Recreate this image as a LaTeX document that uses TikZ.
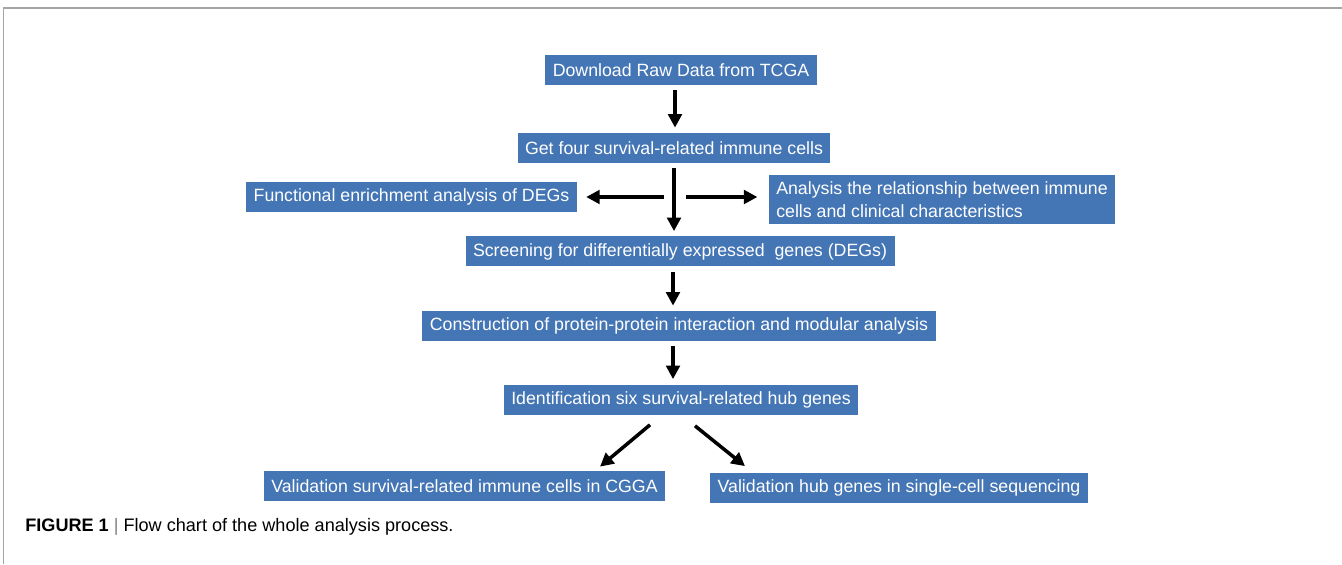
\documentclass[tikz,border=0pt]{standalone}
\usepackage{fontspec}
\setmainfont{Liberation Sans}
\usepackage{tikz}
\usetikzlibrary{arrows.meta,positioning,calc}
\usepackage{xcolor}
\definecolor{boxblue}{RGB}{68,117,181}
\definecolor{framegray}{RGB}{165,165,165}

\begin{document}
\begin{tikzpicture}[
    step box/.style={fill=boxblue, text=white, minimum height=0.6cm, inner xsep=0.15cm, inner ysep=0.05cm, align=left, font=\fontsize{10.1}{13}\selectfont},
    arr/.style={-{Triangle[width=0.27cm,length=0.27cm]}, line width=0.07cm, shorten <=0.1cm, shorten >=0.1cm}
]
    \useasboundingbox (0,0) rectangle (26.84,11.28);
    \draw[framegray, line width=0.6pt] (0.07,0) -- (0.07,11.12) -- (26.84,11.12);

    \node[step box] (dl) at (13.62,9.88) {Download Raw Data from TCGA};
    \node[step box] (get) at (13.48,8.32) {Get four survival-related immune cells};
    \node[step box] (func) at (8.23,7.34) {Functional enrichment analysis of DEGs};
    \node[step box, minimum height=0.98cm] (rel) at (18.84,7.29) {Analysis the relationship between immune\\cells and clinical characteristics};
    \node[step box] (deg) at (13.6,6.25) {Screening for differentially expressed\ \ genes (DEGs)};
    \node[step box] (ppi) at (13.58,4.76) {Construction of protein-protein interaction and modular analysis};
    \node[step box] (hub) at (13.62,3.29) {Identification six survival-related hub genes};
    \node[step box] (cgga) at (9.29,1.56) {Validation survival-related immune cells in CGGA};
    \node[step box] (sc) at (17.98,1.53) {Validation hub genes in single-cell sequencing};

    \node[anchor=west, inner sep=0pt, font=\fontsize{10.3}{12}\selectfont] (cap) at (0.5,0.74) {\textbf{FIGURE 1} \textcolor{gray}{|} Flow chart of the whole analysis process.};

    \coordinate (fork) at (get.south |- func.east);

    \draw[arr] (dl.south -| 13.5,0) -- (get.north -| 13.5,0);
    \draw[arr] (get.south) -- (get.south |- deg.north);
    \draw[arr, shorten <=0.2cm, shorten >=0.18cm] (fork) -- (func.east);
    \draw[arr, shorten <=0.24cm, shorten >=0.22cm] (fork) -- (fork -| rel.west);
    \draw[arr] (deg.south -| 13.46,0) -- (ppi.north -| 13.46,0);
    \draw[arr] (ppi.south -| 13.46,0) -- (hub.north -| 13.46,0);
    \draw[arr, shorten <=0pt, shorten >=0pt] ([xshift=-0.62cm,yshift=-0.2cm]hub.south) -- ([xshift=2.71cm,yshift=0.08cm]cgga.north);
    \draw[arr, shorten <=0pt, shorten >=0pt] ([xshift=0.28cm,yshift=-0.22cm]hub.south) -- ([xshift=-3.08cm,yshift=0.12cm]sc.north);
\end{tikzpicture}
\end{document}
